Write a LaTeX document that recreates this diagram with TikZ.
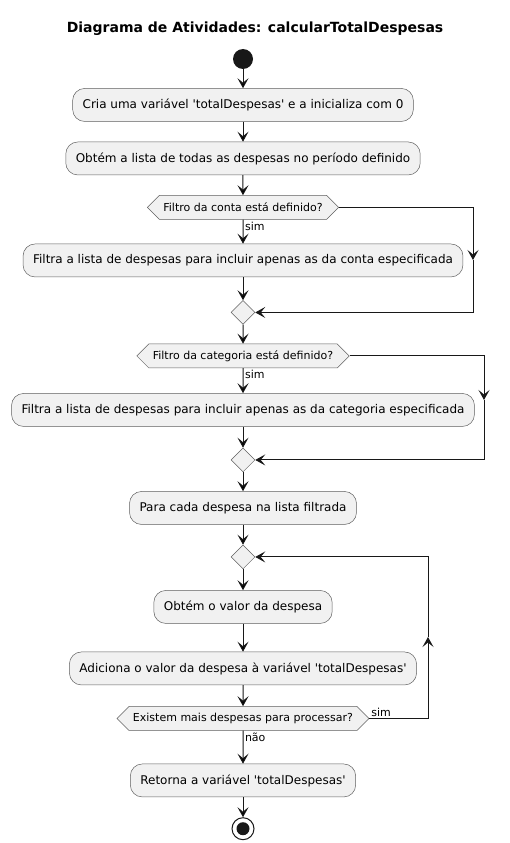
\documentclass[tikz,border=0pt]{standalone}
\usepackage{fontspec}
\setmainfont{DejaVu Sans}[Ligatures=TeXOff]
\usetikzlibrary{shapes,positioning,arrows.meta}
\definecolor{umlfill}{HTML}{F1F1F1}
\definecolor{umldark}{HTML}{181818}
\definecolor{umlborder}{HTML}{5F5F5F}

\begin{document}
\begin{tikzpicture}[
    x=1pt, y=-1pt,
    node distance=20pt,
    font=\fontsize{12}{14}\selectfont,
    actnode/.style={
        rectangle, rounded corners=12pt, draw=umlborder, fill=umlfill, line width=0.5pt, minimum height=33pt, inner xsep=10pt
      },
    ifnode/.style={
        signal, signal to=west and east, draw=umlborder, fill=umlfill, line width=0.5pt, minimum height=24pt, inner xsep=4pt, inner ysep=0pt, font=\fontsize{11}{13}\selectfont
      },
    mergenode/.style={
        diamond, draw=umlborder, fill=umlfill, line width=0.5pt, minimum size=24pt, inner sep=0pt
      },
    startnode/.style={
        circle, fill=umldark, minimum size=20pt, inner sep=0pt
      },
    stopnode/.style={
        circle, draw=umldark, fill=white, line width=1pt, minimum size=22pt, inner sep=0pt,
        path picture={\fill[umldark] (path picture bounding box.center) circle (6.5pt);}
      },
    flow/.style={
        -{Stealth[length=10pt, width=11pt, inset=4.5pt]}, draw=umldark, line width=1pt
      },
    edgelbl/.style={
        inner sep=1.5pt, font=\fontsize{11}{13}\selectfont
      },
  ]
  \useasboundingbox (0,0) rectangle (509,843);
  \node[font=\bfseries\fontsize{14}{16}\selectfont](title) at (255,29) {Diagrama de Atividades: calcularTotalDespesas};
  \node[startnode](start) at (243,59) {};
  \node[actnode](cria) [below=19pt of start] {Cria uma variável 'totalDespesas' e a inicializa com 0};
  \node[actnode](obtem) [below=of cria] {Obtém a lista de todas as despesas no período definido};
  \node[ifnode](ifconta) [below=of obtem] {Filtro da conta está definido?};
  \node[actnode](filtraconta) [below=24pt of ifconta] {Filtra a lista de despesas para incluir apenas as da conta especificada};
  \node[mergenode](mconta) [below=23pt of filtraconta] {};
  \node[ifnode](ifcat) [below=19pt of mconta] {Filtro da categoria está definido?};
  \node[actnode](filtracat) [below=25pt of ifcat] {Filtra a lista de despesas para incluir apenas as da categoria especificada};
  \node[mergenode](mcat) [below=21pt of filtracat] {};
  \node[actnode](paracada) [below=19pt of mcat] {Para cada despesa na lista filtrada};
  \node[mergenode](mloop) [below=of paracada] {};
  \node[actnode](valor) [below=21pt of mloop] {Obtém o valor da despesa};
  \node[actnode](adiciona) [below=28pt of valor] {Adiciona o valor da despesa à variável 'totalDespesas'};
  \node[ifnode](ifmais) [below=21pt of adiciona] {Existem mais despesas para processar?};
  \node[actnode](retorna) [below=33pt of ifmais] {Retorna a variável 'totalDespesas'};
  \node[stopnode](stop) [below=of retorna] {};

  \coordinate (brconta) at (473,260);
  \coordinate (brcat) at (484,400);
  \coordinate (brloop) at (428,637);

  \path[flow]
    (start) edge (cria)
    (cria) edge (obtem)
    (obtem) edge (ifconta)
    (ifconta) edge node[edgelbl, pos=0, anchor=north west] {sim} (filtraconta)
    (filtraconta) edge (mconta)
    (mconta) edge (ifcat)
    (ifcat) edge node[edgelbl, pos=0, anchor=north west] {sim} (filtracat)
    (filtracat) edge (mcat)
    (mcat) edge (paracada)
    (paracada) edge (mloop)
    (mloop) edge (valor)
    (valor) edge (adiciona)
    (adiciona) edge (ifmais)
    (ifmais) edge node[edgelbl, pos=0, anchor=north west] {não} (retorna)
    (retorna) edge (stop)
  ;
  \draw[flow] (ifconta.east) -| (brconta);
  \draw[flow] (brconta) |- (mconta.east);
  \draw[flow] (ifcat.east) -| (brcat);
  \draw[flow] (brcat) |- (mcat.east);
  \draw[flow] (ifmais.east) -| node[edgelbl, pos=0, anchor=south west] {sim} (brloop);
  \draw[flow] (brloop) |- (mloop.east);
\end{tikzpicture}
\end{document}
